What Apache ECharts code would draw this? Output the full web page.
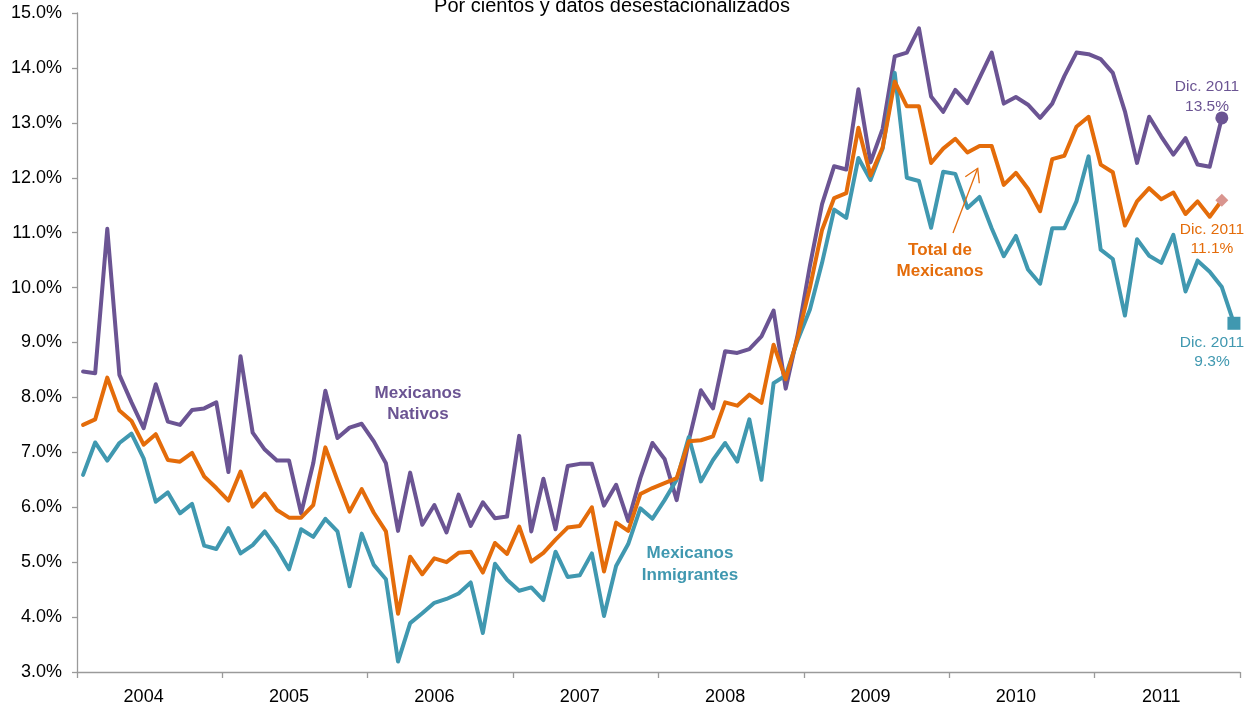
<!DOCTYPE html>
<html><head><meta charset="utf-8">
<script src="https://cdn.jsdelivr.net/npm/echarts@6/dist/echarts.min.js"></script>
<style>html,body{margin:0;padding:0;background:#fff}#c{width:1259px;height:710px}</style>
</head><body><div id="c"></div>
<script>
const years = ['2004','2005','2006','2007','2008','2009','2010','2011'];
const categories = [];
years.forEach(y => { for (let m = 1; m <= 12; m++) categories.push(y + '-' + String(m).padStart(2, '0')); });

// Mexicanos Nativos (ends Nov 2011 in the picture)
const nativos = [
  8.47, 8.44, 11.07, 8.41, 7.91, 7.44, 8.24, 7.56, 7.50, 7.77, 7.80, 7.91,
  6.64, 8.75, 7.36, 7.05, 6.85, 6.85, 5.89, 6.80, 8.12, 7.26, 7.45, 7.52,
  7.20, 6.80, 5.57, 6.63, 5.68, 6.04, 5.54, 6.23, 5.66, 6.09, 5.80, 5.83,
  7.30, 5.56, 6.52, 5.60, 6.75, 6.79, 6.79, 6.03, 6.41, 5.75, 6.53, 7.17,
  6.88, 6.13, 7.21, 8.13, 7.80, 8.84, 8.81, 8.88, 9.11, 9.58, 8.16, 9.15,
  10.40, 11.52, 12.21, 12.15, 13.61, 12.28, 12.89, 14.21, 14.28, 14.72, 13.48, 13.20,
  13.60, 13.36, 13.82, 14.28, 13.35, 13.47, 13.33, 13.09, 13.35, 13.85, 14.28, 14.25,
  14.16, 13.91, 13.21, 12.27, 13.11, 12.75, 12.42, 12.72, 12.24, 12.20, 13.09
];
// Total de Mexicanos
const total = [
  7.50, 7.60, 8.36, 7.76, 7.57, 7.14, 7.33, 6.86, 6.83, 6.99, 6.56, 6.35,
  6.12, 6.65, 6.01, 6.25, 5.95, 5.81, 5.81, 6.04, 7.09, 6.49, 5.92, 6.33,
  5.90, 5.56, 4.06, 5.10, 4.78, 5.07, 5.00, 5.17, 5.19, 4.81, 5.35, 5.15,
  5.65, 5.01, 5.17, 5.41, 5.63, 5.66, 6.00, 4.83, 5.72, 5.57, 6.24, 6.35,
  6.44, 6.53, 7.20, 7.22, 7.29, 7.91, 7.85, 8.05, 7.90, 8.96, 8.33, 9.10,
  10.00, 11.05, 11.63, 11.72, 12.91, 12.04, 12.55, 13.75, 13.30, 13.30, 12.27, 12.53,
  12.71, 12.46, 12.58, 12.58, 11.87, 12.09, 11.80, 11.39, 12.34, 12.40, 12.93, 13.11,
  12.24, 12.10, 11.13, 11.57, 11.81, 11.61, 11.73, 11.34, 11.57, 11.29, 11.59
];
// Mexicanos Inmigrantes
const inmigrantes = [
  6.59, 7.18, 6.85, 7.17, 7.34, 6.89, 6.10, 6.27, 5.89, 6.06, 5.30, 5.24,
  5.62, 5.16, 5.31, 5.56, 5.25, 4.87, 5.60, 5.46, 5.79, 5.56, 4.56, 5.52,
  4.95, 4.69, 3.19, 3.89, 4.07, 4.26, 4.33, 4.43, 4.63, 3.71, 4.97, 4.68,
  4.48, 4.54, 4.31, 5.19, 4.73, 4.76, 5.16, 4.02, 4.93, 5.33, 5.98, 5.79,
  6.13, 6.50, 7.28, 6.47, 6.86, 7.17, 6.83, 7.60, 6.50, 8.26, 8.40, 9.05,
  9.60, 10.45, 11.42, 11.27, 12.36, 11.96, 12.53, 13.91, 12.00, 11.94, 11.09, 12.11,
  12.07, 11.45, 11.65, 11.08, 10.57, 10.94, 10.33, 10.07, 11.08, 11.08, 11.57, 12.39,
  10.69, 10.52, 9.49, 10.88, 10.58, 10.45, 10.96, 9.93, 10.49, 10.29, 10.01, 9.35
];
const yMin = 3, yMax = 15, yStep = 1;

const PURPLE = '#6B5493', ORANGE = '#E46C0A', TEAL = '#4098B0', PINK = '#D9958F';
const FONT = '"Liberation Sans", Arial, sans-serif';

function withEnd(arr, sym, size, color) {
  return arr.map((v, i) => i === arr.length - 1
    ? { value: v, symbol: sym, symbolSize: size, itemStyle: { color: color } }
    : v);
}
function lineSeries(name, data, color, z) {
  return {
    name, type: 'line', data, z,
    symbol: 'none', showSymbol: true, showAllSymbol: true,
    lineStyle: { width: 4, color: color, join: 'round', cap: 'round' },
    itemStyle: { color: color },
    emphasis: { disabled: true },
    animation: false
  };
}

const chart = echarts.init(document.getElementById('c'), null, { renderer: 'canvas' });
chart.setOption({
  backgroundColor: '#fff',
  animation: false,
  textStyle: { fontFamily: FONT },
  grid: { left: 77, right: 19, top: 13, bottom: 38, containLabel: false },
  xAxis: {
    type: 'category', data: categories, boundaryGap: true,
    axisLine: { lineStyle: { color: '#9A9A9A', width: 1.3 } },
    axisTick: { show: true, interval: 11, length: 6, inside: false, lineStyle: { color: '#9A9A9A', width: 1.3 } },
    axisLabel: {
      interval: (i) => i % 12 === 5,
      formatter: (v) => v.slice(0, 4),
      fontSize: 18, color: '#000', margin: 16, fontFamily: FONT
    },
    splitLine: { show: false }
  },
  yAxis: {
    type: 'value', min: yMin, max: yMax, interval: yStep,
    axisLine: { show: true, lineStyle: { color: '#9A9A9A', width: 1.3 } },
    axisTick: { show: true, length: 5, lineStyle: { color: '#9A9A9A', width: 1.3 } },
    axisLabel: { formatter: (v) => v.toFixed(1) + '%', fontSize: 18, color: '#000', margin: 15, fontFamily: FONT },
    splitLine: { show: false }
  },
  series: [
    lineSeries('Mexicanos Nativos', withEnd(nativos, 'circle', 13, PURPLE), PURPLE, 2),
    lineSeries('Mexicanos Inmigrantes', withEnd(inmigrantes, 'rect', 13, TEAL), TEAL, 3),
    lineSeries('Total de Mexicanos', withEnd(total, 'diamond', 13, PINK), ORANGE, 4)
  ],
  graphic: [
    { type: 'text', x: 612, y: 6.5, z: 10,
      style: { text: 'Por cientos y datos desestacionalizados', fontSize: 20, fontFamily: FONT, fill: '#000', textAlign: 'center', textVerticalAlign: 'middle' } },
    { type: 'text', x: 418, y: 404, z: 10,
      style: { text: 'Mexicanos\nNativos', fontSize: 17, fontWeight: 'bold', lineHeight: 21, fontFamily: FONT, fill: PURPLE, textAlign: 'center', textVerticalAlign: 'middle' } },
    { type: 'text', x: 690, y: 564, z: 10,
      style: { text: 'Mexicanos\nInmigrantes', fontSize: 17, fontWeight: 'bold', lineHeight: 22, fontFamily: FONT, fill: TEAL, textAlign: 'center', textVerticalAlign: 'middle' } },
    { type: 'text', x: 940, y: 260.5, z: 10,
      style: { text: 'Total de\nMexicanos', fontSize: 17, fontWeight: 'bold', lineHeight: 21, fontFamily: FONT, fill: ORANGE, textAlign: 'center', textVerticalAlign: 'middle' } },
    { type: 'polyline', z: 10, shape: { points: [[953, 233], [977.7, 168.3]] }, style: { stroke: ORANGE, lineWidth: 1.3, fill: null } },
    { type: 'polyline', z: 10, shape: { points: [[965.3, 176.7], [977.7, 168.3], [979.3, 183.3]] }, style: { stroke: ORANGE, lineWidth: 1.3, fill: null } },
    { type: 'text', x: 1207, y: 97, z: 10,
      style: { text: 'Dic. 2011\n13.5%', fontSize: 15.5, lineHeight: 20, fontFamily: FONT, fill: PURPLE, textAlign: 'center', textVerticalAlign: 'middle' } },
    { type: 'text', x: 1212, y: 239, z: 10,
      style: { text: 'Dic. 2011\n11.1%', fontSize: 15.5, lineHeight: 19, fontFamily: FONT, fill: ORANGE, textAlign: 'center', textVerticalAlign: 'middle' } },
    { type: 'text', x: 1212, y: 352.5, z: 10,
      style: { text: 'Dic. 2011\n9.3%', fontSize: 15.5, lineHeight: 19, fontFamily: FONT, fill: TEAL, textAlign: 'center', textVerticalAlign: 'middle' } }
  ]
});
</script>
</body></html>
